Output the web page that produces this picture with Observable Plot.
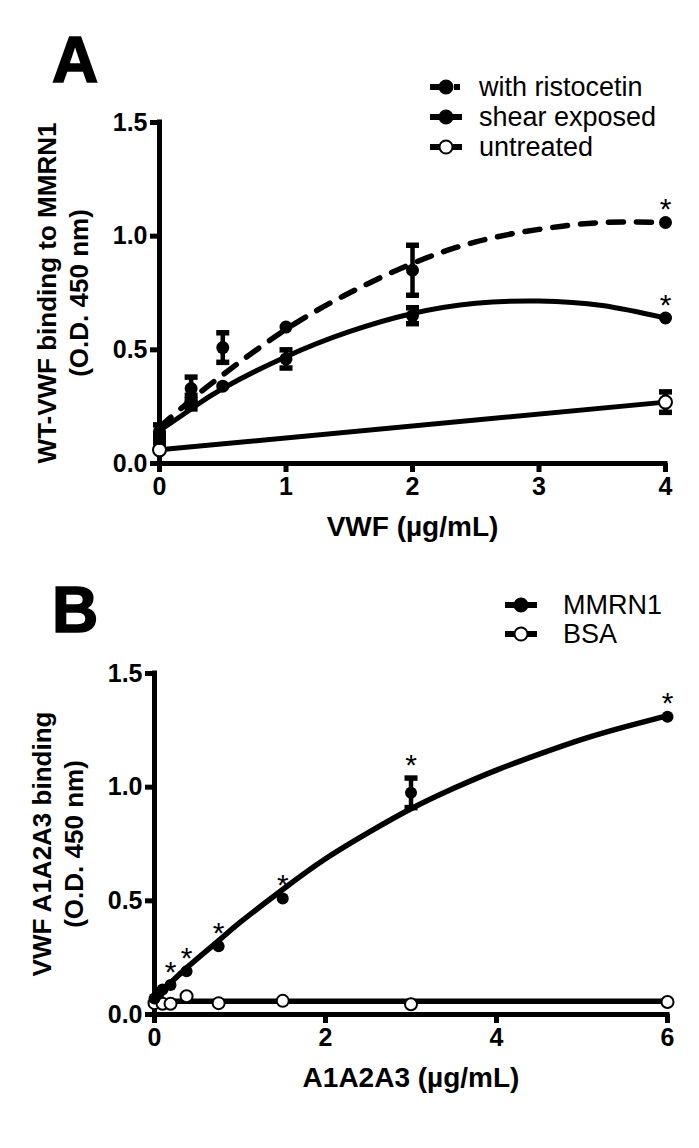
<!DOCTYPE html>
<html>
<head>
<meta charset="utf-8">
<script src="https://cdn.jsdelivr.net/npm/d3@7"></script>
<script src="https://cdn.jsdelivr.net/npm/@observablehq/plot@0.6"></script>
<style>
  body { margin: 0; background: #fff; }
  #page { position: relative; width: 699px; height: 1148px; overflow: hidden; background: #fff; }
  #page > svg { position: absolute; left: 0; }
</style>
</head>
<body>
<div id="page"></div>
<script>
// ---------------- Panel A data ----------------
const xTicksA = [0, 1, 2, 3, 4];
const yTicks = [0, 0.5, 1.0, 1.5];
const doseA = [0, 0.25, 0.5, 1, 2, 4];
const ristocetinMean = [0.14, 0.33, 0.51, 0.60, 0.85, 1.06];
const ristocetinSem  = [0.03, 0.05, 0.065, 0, 0.11, 0];
const shearMean = [0.11, 0.27, 0.34, 0.46, 0.65, 0.64];
const shearSem  = [0.02, 0.03, 0, 0.04, 0.035, 0];
const doseUntreated = [0, 4];
const untreatedMean = [0.06, 0.27];
const untreatedSem  = [0, 0.045];
// fitted curves
const fitDoseA = [0, 0.25, 0.5, 1, 1.5, 2, 2.5, 3, 3.5, 4];
const ristocetinFit = [0.16, 0.28, 0.39, 0.59, 0.75, 0.88, 0.975, 1.03, 1.06, 1.06];
const shearFit = [0.145, 0.24, 0.33, 0.47, 0.58, 0.66, 0.705, 0.715, 0.695, 0.64];
const untreatedFitDose = [0, 4];
const untreatedFit = [0.06, 0.27];
const starDoseA = [4, 4];
const starSeriesA = ["with ristocetin", "shear exposed"];
const legendA = ["with ristocetin", "shear exposed", "untreated"];
const xLabelA = "VWF (\u00b5g/mL)";
const yLabelA = "WT-VWF binding to MMRN1\n(O.D. 450 nm)";

// ---------------- Panel B data ----------------
const xTicksB = [0, 2, 4, 6];
const doseB = [0, 0.047, 0.094, 0.1875, 0.375, 0.75, 1.5, 3, 6];
const mmrn1Mean = [0.07, 0.09, 0.11, 0.13, 0.19, 0.30, 0.51, 0.975, 1.31];
const mmrn1Sem  = [0, 0, 0, 0, 0, 0, 0, 0.065, 0];
const doseBSA = [0, 0.094, 0.1875, 0.375, 0.75, 1.5, 3, 6];
const bsaMean = [0.05, 0.047, 0.047, 0.08, 0.05, 0.06, 0.045, 0.055];
const fitDoseB = [0, 0.375, 0.75, 1, 1.5, 2, 2.5, 3, 3.5, 4, 4.5, 5, 5.5, 6];
const mmrn1Fit = [0.07, 0.205, 0.325, 0.405, 0.55, 0.685, 0.80, 0.905, 0.995, 1.075, 1.145, 1.21, 1.265, 1.315];
const bsaFitDose = [0, 6];
const bsaFit = [0.058, 0.058];
const starDoseB = [0.1875, 0.375, 0.75, 1.5, 3, 6];
const legendB = ["MMRN1", "BSA"];
const xLabelB = "A1A2A3 (\u00b5g/mL)";
const yLabelB = "VWF A1A2A3 binding\n(O.D. 450 nm)";

// ---------------- helpers ----------------
const FONT = '"Liberation Sans", Arial, Helvetica, sans-serif';
const zip = (xs, ys, es) => xs.map((x, i) => ({x, y: ys[i], e: es ? es[i] : 0}));
const cap = {draw(ctx) { ctx.rect(-6.5, -2.75, 13, 5.5); }};

function errorMarks(data) {
  const d = data.filter(p => p.e > 0);
  return [
    Plot.ruleX(d, {x: "x", y1: p => p.y - p.e, y2: p => p.y + p.e, strokeWidth: 4.5, stroke: "black"}),
    Plot.dot(d, {x: "x", y: p => p.y + p.e, symbol: cap, fill: "black", stroke: "none"}),
    Plot.dot(d, {x: "x", y: p => p.y - p.e, symbol: cap, fill: "black", stroke: "none"})
  ];
}

function panel({height, left, right, xDomain, xTicks, xLabel, yLabel, marks}) {
  return Plot.plot({
    width: 699,
    height,
    marginTop: 122,
    marginBottom: height - 463,
    marginLeft: left,
    marginRight: right,
    x: {domain: xDomain},
    y: {domain: [0, 1.5]},
    style: {fontFamily: FONT, color: "black", background: "transparent", overflow: "visible"},
    marks: [
      Plot.axisX({ticks: xTicks, tickFormat: d3.format("d"), tickSize: 9, strokeWidth: 5, tickPadding: 5, fontSize: 25, fontWeight: "bold", label: null}),
      Plot.axisY({ticks: yTicks, tickFormat: d3.format(".1f"), tickSize: 9, strokeWidth: 5, tickPadding: 3, fontSize: 25, fontWeight: "bold", label: null}),
      Plot.ruleX([xDomain[0]], {y1: 0, y2: 1.5, strokeWidth: 5, strokeLinecap: "square"}),
      Plot.ruleY([0], {x1: xDomain[0], x2: xDomain[1], strokeWidth: 5, strokeLinecap: "square"}),
      ...marks,
      Plot.text([xLabel], {text: d => d, frameAnchor: "bottom", dy: 72, fontSize: 28, fontWeight: "bold"}),
      Plot.text([yLabel], {text: d => d, frameAnchor: "left", dx: -98, rotate: -90, textAnchor: "middle", lineAnchor: "middle", lineHeight: 1.25, fontSize: 26, fontWeight: "bold"})
    ]
  });
}

// ---------------- Panel A ----------------
const risto = zip(doseA, ristocetinMean, ristocetinSem);
const shear = zip(doseA, shearMean, shearSem);
const untreated = zip(doseUntreated, untreatedMean, untreatedSem);
const seriesA = {"with ristocetin": risto, "shear exposed": shear};
const starsA = starDoseA.map((x, i) => {
  const p = seriesA[starSeriesA[i]].find(d => d.x === x);
  return {x, y: p.y + p.e};
});

const plotA = panel({
  height: 551, left: 159, right: 34, xDomain: [0, 4], xTicks: xTicksA, xLabel: xLabelA, yLabel: yLabelA,
  marks: [
    Plot.line(zip(untreatedFitDose, untreatedFit), {x: "x", y: "y", strokeWidth: 5}),
    Plot.line(zip(fitDoseA, shearFit), {x: "x", y: "y", curve: "natural", strokeWidth: 5}),
    Plot.line(zip(fitDoseA, ristocetinFit), {x: "x", y: "y", curve: "natural", strokeWidth: 5.5, strokeDasharray: "15,13"}),
    ...errorMarks(untreated),
    ...errorMarks(shear),
    ...errorMarks(risto),
    Plot.dot(untreated, {x: "x", y: "y", r: 6.5, fill: "white", stroke: "black", strokeWidth: 2}),
    Plot.dot(shear, {x: "x", y: "y", r: 6.5, fill: "black"}),
    Plot.dot(risto, {x: "x", y: "y", r: 6.5, fill: "black"}),
    Plot.text(starsA, {x: "x", y: "y", text: () => "*", dy: -13, fontSize: 30, fontWeight: "normal"})
  ]
});
plotA.style.top = "0px";
document.getElementById("page").appendChild(plotA);

// ---------------- Panel B ----------------
const mmrn1 = zip(doseB, mmrn1Mean, mmrn1Sem);
const bsa = zip(doseBSA, bsaMean);
const starsB = starDoseB.map(x => {
  const p = mmrn1.find(d => d.x === x);
  return {x, y: p.y + p.e};
});

const plotB = panel({
  height: 597, left: 154, right: 32, xDomain: [0, 6], xTicks: xTicksB, xLabel: xLabelB, yLabel: yLabelB,
  marks: [
    Plot.line(zip(bsaFitDose, bsaFit), {x: "x", y: "y", strokeWidth: 5.5}),
    Plot.line(zip(fitDoseB, mmrn1Fit), {x: "x", y: "y", curve: "natural", strokeWidth: 5.5}),
    ...errorMarks(mmrn1),
    Plot.dot(bsa, {x: "x", y: "y", r: 6, fill: "white", stroke: "black", strokeWidth: 2}),
    Plot.dot(mmrn1, {x: "x", y: "y", r: 6, fill: "black"}),
    Plot.text(starsB, {x: "x", y: "y", text: () => "*", dy: -13, fontSize: 30, fontWeight: "normal"})
  ]
});
plotB.style.top = "551px";
document.getElementById("page").appendChild(plotB);

// ---------------- Panel letters and legends ----------------
const ov = d3.select("#page").append("svg")
  .attr("width", 699).attr("height", 1148)
  .style("top", "0px")
  .style("font-family", FONT);

ov.append("text").attr("x", 52).attr("y", 82).attr("font-size", 64).attr("font-weight", "bold")
  .attr("stroke", "black").attr("stroke-width", 1.6).text("A");
ov.append("text").attr("x", 52).attr("y", 632).attr("font-size", 64).attr("font-weight", "bold")
  .attr("stroke", "black").attr("stroke-width", 1.6).text("B");

function drawLegend(labels, kinds, x0, tx, ys) {
  labels.forEach((label, i) => {
    const y = ys[i], k = kinds[i];
    const g = ov.append("g");
    if (k.dashed) {
      g.append("line").attr("x1", x0).attr("x2", x0 + 11).attr("y1", y).attr("y2", y).attr("stroke", "black").attr("stroke-width", 6);
      g.append("line").attr("x1", x0 + 24).attr("x2", x0 + 30).attr("y1", y).attr("y2", y).attr("stroke", "black").attr("stroke-width", 6);
    } else {
      g.append("line").attr("x1", x0).attr("x2", x0 + 32).attr("y1", y).attr("y2", y).attr("stroke", "black").attr("stroke-width", 6);
    }
    g.append("circle").attr("cx", x0 + 16).attr("cy", y).attr("r", 6.5)
      .attr("fill", k.open ? "white" : "black").attr("stroke", "black").attr("stroke-width", 2);
    g.append("text").attr("x", tx).attr("y", y + 9).attr("font-size", 27).text(label);
  });
}
drawLegend(legendA, [{dashed: true}, {}, {open: true}], 430, 479, [87, 117, 147]);
drawLegend(legendB, [{}, {open: true}], 505, 563, [605, 634]);
</script>
</body>
</html>
